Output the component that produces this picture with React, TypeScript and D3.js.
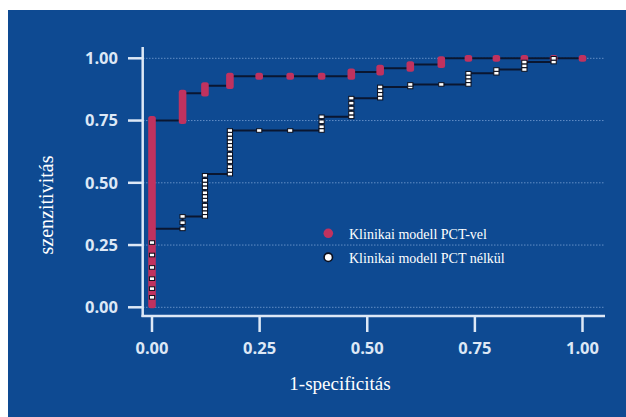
import React, { useEffect, useRef } from 'react';
import * as d3 from 'd3';

// 1-specificitás értékek, ahol a görbék oszlopai állnak
const fprSteps = [0, 0.071, 0.123, 0.181, 0.249, 0.321, 0.394, 0.463, 0.53, 0.6, 0.672, 0.735, 0.8, 0.865, 0.933, 1.0];

// PCT-vel: oszloponként alsó és felső szenzitivitás
const withPctLow = [0.01, 0.75, 0.86, 0.89, 0.928, 0.928, 0.928, 0.928, 0.945, 0.96, 0.975, 1, 1, 1, 1, 1];
const withPctHigh = [0.755, 0.86, 0.89, 0.928, 0.928, 0.928, 0.928, 0.945, 0.96, 0.975, 0.995, 1, 1, 1, 1, 1];

// PCT nélkül: oszloponként a pontok szenzitivitása (az utolsót a piros takarja)
const withoutPct: number[][] = [
  [0.04, 0.075, 0.115, 0.16, 0.21, 0.26],
  [0.315, 0.34, 0.365],
  [0.365, 0.38, 0.395, 0.41, 0.43, 0.445, 0.46, 0.48, 0.495, 0.51, 0.53],
  [0.535, 0.55, 0.565, 0.585, 0.6, 0.615, 0.635, 0.65, 0.665, 0.68, 0.695, 0.71],
  [0.71],
  [0.71],
  [0.71, 0.725, 0.745, 0.765],
  [0.765, 0.78, 0.8, 0.82, 0.84],
  [0.84, 0.855, 0.87, 0.885],
  [0.885, 0.895],
  [0.895],
  [0.895, 0.91, 0.925, 0.94],
  [0.94, 0.955],
  [0.955, 0.97, 0.985],
  [0.985, 1.0],
  [],
];

const ticks = [0, 0.25, 0.5, 0.75, 1];
const legendLabels = ['Klinikai modell PCT-vel', 'Klinikai modell PCT nélkül'];
const xTitle = '1-specificitás';
const yTitle = 'szenzitivitás';

export default function App() {
  const svgRef = useRef<SVGSVGElement>(null);

  useEffect(() => {
    const width = 626;
    const height = 417;
    const svg = d3.select(svgRef.current);
    svg.selectAll('*').remove();

    const red = '#c0325f';
    const axisCol = '#dde8f6';
    const lineCol = '#0a1630';

    const x = d3.scaleLinear().domain([0, 1]).range([152, 582.5]);
    const y = d3.scaleLinear().domain([0, 1]).range([307.3, 58.3]);

    svg.append('rect')
      .attr('x', 8).attr('y', 10)
      .attr('width', width - 8).attr('height', height - 10)
      .attr('fill', '#0e4a92');

    // rácsvonalak
    svg.append('g').selectAll('line')
      .data(ticks)
      .enter().append('line')
      .attr('x1', 143).attr('x2', 605)
      .attr('y1', d => y(d)).attr('y2', d => y(d))
      .attr('stroke', '#8fb2e2')
      .attr('stroke-width', 1)
      .attr('stroke-dasharray', '1.5,1.5')
      .attr('opacity', 0.65);

    // tengelyek
    svg.append('line')
      .attr('x1', 142.7).attr('x2', 142.7).attr('y1', 47).attr('y2', 317)
      .attr('stroke', axisCol).attr('stroke-width', 2.5);
    svg.append('line')
      .attr('x1', 141.5).attr('x2', 605).attr('y1', 316).attr('y2', 316)
      .attr('stroke', axisCol).attr('stroke-width', 2.5);

    const yAxis = svg.append('g');
    yAxis.selectAll('line')
      .data(ticks)
      .enter().append('line')
      .attr('x1', 128).attr('x2', 143)
      .attr('y1', d => y(d)).attr('y2', d => y(d))
      .attr('stroke', axisCol).attr('stroke-width', 2.5);
    yAxis.selectAll('text')
      .data(ticks)
      .enter().append('text')
      .attr('x', 118).attr('y', d => y(d))
      .attr('dy', '0.36em')
      .attr('text-anchor', 'end')
      .attr('fill', axisCol)
      .style('font-family', '"Open Sans", sans-serif')
      .style('font-weight', 700)
      .style('font-size', '16.5px')
      .text(d => d3.format('.2f')(d));

    const xAxis = svg.append('g');
    xAxis.selectAll('line')
      .data(ticks)
      .enter().append('line')
      .attr('x1', d => x(d)).attr('x2', d => x(d))
      .attr('y1', 316).attr('y2', 332)
      .attr('stroke', axisCol).attr('stroke-width', 2.5);
    xAxis.selectAll('text')
      .data(ticks)
      .enter().append('text')
      .attr('x', d => x(d)).attr('y', 354)
      .attr('text-anchor', 'middle')
      .attr('fill', axisCol)
      .style('font-family', '"Open Sans", sans-serif')
      .style('font-weight', 700)
      .style('font-size', '16.5px')
      .text(d => d3.format('.2f')(d));

    // tengelyfeliratok
    svg.append('text')
      .attr('x', 340).attr('y', 390)
      .attr('text-anchor', 'middle')
      .attr('fill', '#ffffff')
      .style('font-family', '"Liberation Serif", serif')
      .style('font-size', '19px')
      .text(xTitle);
    svg.append('text')
      .attr('transform', 'translate(53,205) rotate(-90)')
      .attr('text-anchor', 'middle')
      .attr('fill', '#ffffff')
      .style('font-family', '"Liberation Serif", serif')
      .style('font-size', '20px')
      .text(yTitle);

    // lépcsős vonalak
    const redPts: [number, number][] = [];
    fprSteps.forEach((f, i) => {
      redPts.push([f, withPctLow[i]]);
      redPts.push([f, withPctHigh[i]]);
    });
    const whitePts: [number, number][] = [];
    fprSteps.forEach((f, i) => {
      withoutPct[i].forEach(v => whitePts.push([f, v]));
    });

    const line = d3.line<[number, number]>()
      .x(d => x(d[0]))
      .y(d => y(d[1]))
      .curve(d3.curveStepBefore);

    svg.append('path')
      .datum(whitePts)
      .attr('d', line)
      .attr('fill', 'none')
      .attr('stroke', lineCol)
      .attr('stroke-width', 2);
    svg.append('path')
      .datum(redPts)
      .attr('d', line)
      .attr('fill', 'none')
      .attr('stroke', lineCol)
      .attr('stroke-width', 2);

    // PCT-vel jelölők
    svg.append('g').selectAll('rect')
      .data(fprSteps.map((f, i) => ({ f, lo: withPctLow[i], hi: withPctHigh[i] })))
      .enter().append('rect')
      .attr('x', d => x(d.f) - 3.8)
      .attr('y', d => y(d.hi) - 3.4)
      .attr('width', 7.6)
      .attr('height', d => y(d.lo) - y(d.hi) + 6.8)
      .attr('rx', 2.5)
      .attr('fill', red);

    // PCT nélkül jelölők
    svg.append('g').selectAll('rect')
      .data(whitePts)
      .enter().append('rect')
      .attr('x', d => x(d[0]) - 2.6)
      .attr('y', d => y(d[1]) - 1.8)
      .attr('width', 5.2)
      .attr('height', 3.6)
      .attr('fill', '#ffffff')
      .attr('stroke', '#0b0f1e')
      .attr('stroke-width', 1);

    // jelmagyarázat
    const legend = svg.append('g');
    legend.append('circle')
      .attr('cx', 328.3).attr('cy', 233.3).attr('r', 4.8)
      .attr('fill', red);
    legend.append('circle')
      .attr('cx', 328.3).attr('cy', 257.3).attr('r', 4.2)
      .attr('fill', '#ffffff')
      .attr('stroke', '#0b0f1e').attr('stroke-width', 1.6);
    legend.selectAll('text')
      .data(legendLabels)
      .enter().append('text')
      .attr('x', 349).attr('y', (d, i) => 238.5 + i * 24)
      .attr('fill', '#ffffff')
      .style('font-family', '"Liberation Serif", serif')
      .style('font-size', '14px')
      .text(d => d);
  }, []);

  return (
    <svg
      ref={svgRef}
      width={626}
      height={417}
      style={{ position: 'absolute', left: 0, top: 0, background: '#ffffff' }}
    ></svg>
  );
}
